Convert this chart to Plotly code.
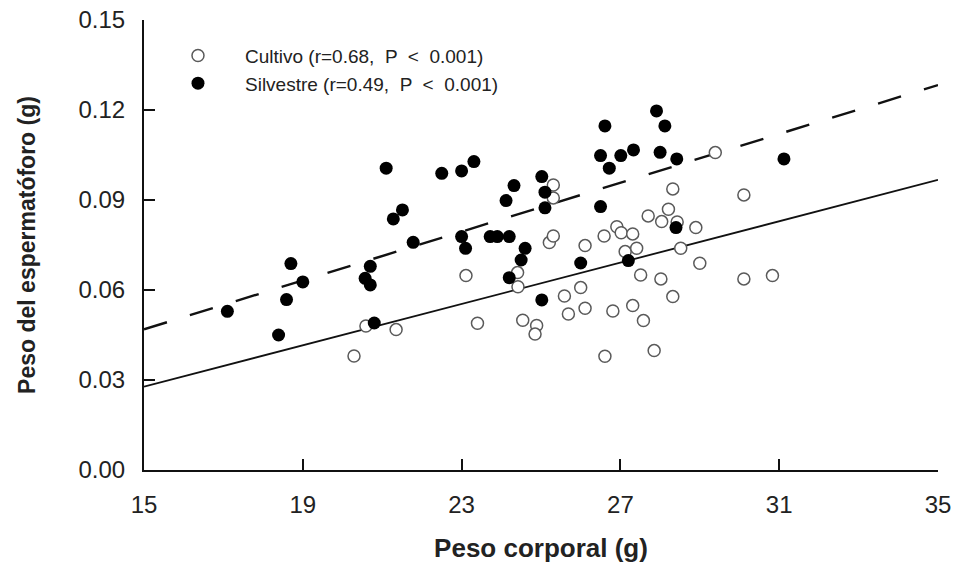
import plotly.graph_objects as go

# Body weight (g) and spermatophore weight (g)
cultivo_x = [20.29, 20.59, 21.35, 23.11, 23.40, 24.41, 24.42, 24.54, 24.89, 24.85,
             25.21, 25.31, 25.31, 25.31, 25.59, 25.69, 26.00, 26.11, 26.11, 26.59,
             26.61, 26.81, 26.91, 27.02, 27.12, 27.31, 27.31, 27.41, 27.51, 27.58,
             27.70, 27.85, 28.02, 28.04, 28.21, 28.32, 28.32, 28.43, 28.52, 28.90,
             29.00, 29.39, 30.11, 30.11, 30.83]
cultivo_y = [0.0380, 0.0480, 0.0468, 0.0648, 0.0489, 0.0658, 0.0611, 0.0499, 0.0482, 0.0453,
             0.0758, 0.0780, 0.0950, 0.0907, 0.0580, 0.0520, 0.0608, 0.0748, 0.0539, 0.0780,
             0.0379, 0.0530, 0.0811, 0.0791, 0.0728, 0.0787, 0.0548, 0.0739, 0.0650, 0.0498,
             0.0847, 0.0398, 0.0637, 0.0828, 0.0869, 0.0937, 0.0578, 0.0827, 0.0739, 0.0808,
             0.0689, 0.1058, 0.0917, 0.0637, 0.0648]

silvestre_x = [17.10, 18.39, 18.59, 18.70, 19.00, 20.57, 20.70, 20.70, 20.80, 21.10,
               21.28, 21.51, 21.78, 22.50, 23.00, 23.31, 23.00, 23.10, 23.72, 23.90,
               24.20, 24.12, 24.32, 24.20, 24.60, 24.50, 25.02, 25.10, 25.10, 25.02,
               26.00, 26.50, 26.50, 26.61, 26.72, 27.01, 27.33, 27.20, 27.91, 28.12,
               28.00, 28.42, 28.40, 31.12]
silvestre_y = [0.0529, 0.0450, 0.0568, 0.0688, 0.0627, 0.0639, 0.0679, 0.0617, 0.0490, 0.1006,
               0.0837, 0.0867, 0.0759, 0.0989, 0.0997, 0.1028, 0.0778, 0.0739, 0.0778, 0.0778,
               0.0778, 0.0898, 0.0948, 0.0641, 0.0739, 0.0700, 0.0978, 0.0926, 0.0874, 0.0567,
               0.0690, 0.0878, 0.1048, 0.1147, 0.1006, 0.1048, 0.1067, 0.0698, 0.1197, 0.1147,
               0.1059, 0.1037, 0.0808, 0.1037]

# Linear fits (intercept, slope)
cultivo_fit = (-0.02388, 0.003445)
silvestre_fit = (-0.01415, 0.00407)
fit_x = [15, 35]

cultivo_label = "Cultivo (r=0.68,  P  <  0.001)"
silvestre_label = "Silvestre (r=0.49,  P  <  0.001)"

x_ticks = [15, 19, 23, 27, 31, 35]
y_ticks = [0.00, 0.03, 0.06, 0.09, 0.12, 0.15]

FONT = "Arial, Liberation Sans, sans-serif"


def line_y(fit, xs):
    a, b = fit
    return [a + b * x for x in xs]


fig = go.Figure()

fig.add_trace(go.Scatter(
    x=fit_x, y=line_y(cultivo_fit, fit_x), mode="lines",
    line=dict(color="#111111", width=1.8), showlegend=False, hoverinfo="skip"))
fig.add_trace(go.Scatter(
    x=fit_x, y=line_y(silvestre_fit, fit_x), mode="lines",
    line=dict(color="#111111", width=2.4, dash="24px,24px"), showlegend=False,
    hoverinfo="skip"))

fig.add_trace(go.Scatter(
    x=cultivo_x, y=cultivo_y, mode="markers", name=cultivo_label,
    legendgroup="c", legendrank=1,
    marker=dict(symbol="circle", size=12, color="white",
                line=dict(color="#5a5a5a", width=1.5)),
    cliponaxis=False))
fig.add_trace(go.Scatter(
    x=silvestre_x, y=silvestre_y, mode="markers", name=silvestre_label,
    legendgroup="s", legendrank=2,
    marker=dict(symbol="circle", size=13, color="black", line=dict(width=0)),
    cliponaxis=False))

axis_common = dict(
    showgrid=False, zeroline=False, showline=True, linecolor="#111111", linewidth=2,
    ticks="inside", ticklen=11, tickwidth=1.5, tickcolor="#111111",
    tickfont=dict(family=FONT, size=24, color="#222222"),
    mirror=False, automargin=False,
)

fig.update_xaxes(
    **axis_common, range=[15, 35], tickvals=x_ticks,
    ticktext=[str(v) for v in x_ticks], ticklabelstandoff=12,
    title=dict(text="Peso corporal (g)", standoff=26,
               font=dict(family=FONT, size=26, color="#222222", weight="bold")),
)
fig.update_yaxes(
    **axis_common, range=[0, 0.15], tickvals=y_ticks,
    ticktext=[f"{v:.2f}" for v in y_ticks], ticklabelstandoff=12,
    title=dict(text="Peso del espermatóforo (g)", standoff=36,
               font=dict(family=FONT, size=23, color="#222222", weight="bold")),
)

fig.update_layout(
    width=954, height=563,
    margin=dict(l=144, r=16, t=20, b=93),
    paper_bgcolor="white", plot_bgcolor="white",
    legend=dict(x=0.0088, y=0.963, xanchor="left", yanchor="top",
                bgcolor="rgba(0,0,0,0)", borderwidth=0, itemwidth=84,
                tracegroupgap=0, traceorder="grouped",
                font=dict(family=FONT, size=19, color="#222222")),
)

fig.write_html("out.html")
